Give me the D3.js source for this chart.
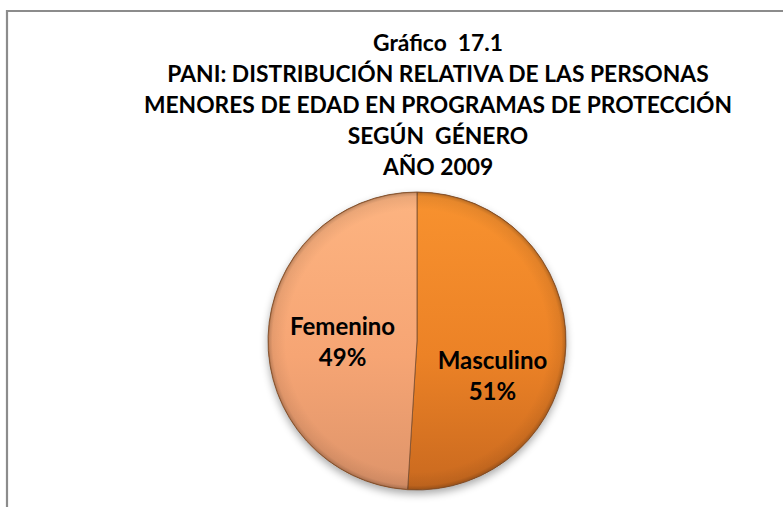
<!DOCTYPE html>
<html>
<head>
<meta charset="utf-8">
<script src="https://cdn.jsdelivr.net/npm/d3@7"></script>
<style>
  html, body { margin: 0; padding: 0; background: #ffffff; }
  svg { display: block; }
  text { white-space: pre; }
</style>
</head>
<body>
<svg id="chart" width="783" height="507"></svg>
<script>
// ---- Data ----
const titleLines = [
  "Gráfico  17.1",
  "PANI: DISTRIBUCIÓN RELATIVA DE LAS PERSONAS",
  "MENORES DE EDAD EN PROGRAMAS DE PROTECCIÓN",
  "SEGÚN  GÉNERO",
  "AÑO 2009"
];
const categories = ["Masculino", "Femenino"];
const values = [51, 49];
const percentLabels = ["51%", "49%"];

// ---- Layout / style (not data) ----
const W = 783, H = 507;
const cx = 417, cy = 341, R = 149;
const fontFamily = "Lato, 'Open Sans', 'Liberation Sans', sans-serif";
const sliceStops = [
  [{o: 0, c: "#f8922f"}, {o: 0.55, c: "#ec8226"}, {o: 1, c: "#c9691f"}],
  [{o: 0, c: "#fdb481"}, {o: 0.55, c: "#f6a574"}, {o: 1, c: "#de946a"}]
];
const labelShift = [[-2, 33], [3, 4]];

const svg = d3.select("#chart");
const defs = svg.append("defs");

// frame
svg.append("path")
  .attr("d", `M7,${H + 5} L7,11 L${W + 5},11`)
  .attr("fill", "none")
  .attr("stroke", "#8c8c8c")
  .attr("stroke-width", 2.2);

// title
const title = svg.append("text")
  .attr("text-anchor", "middle")
  .attr("font-family", fontFamily)
  .attr("font-weight", "bold")
  .attr("font-size", 22.8)
  .attr("fill", "#000");
titleLines.forEach((t, i) => {
  title.append("tspan")
    .attr("x", 438)
    .attr("y", 51 + i * 31)
    .text(t);
});

// gradients (in the pie group's coordinates)
sliceStops.forEach((stops, i) => {
  const gr = defs.append("linearGradient")
    .attr("id", "grad" + i)
    .attr("gradientUnits", "userSpaceOnUse")
    .attr("x1", 0).attr("y1", -R)
    .attr("x2", 0).attr("y2", R);
  stops.forEach(s => gr.append("stop").attr("offset", s.o).attr("stop-color", s.c));
});
const rim = defs.append("radialGradient")
  .attr("id", "rim")
  .attr("gradientUnits", "userSpaceOnUse")
  .attr("cx", 0).attr("cy", 0).attr("r", R);
rim.append("stop").attr("offset", 0.88).attr("stop-color", "#000").attr("stop-opacity", 0);
rim.append("stop").attr("offset", 0.97).attr("stop-color", "#000").attr("stop-opacity", 0.07);
rim.append("stop").attr("offset", 1).attr("stop-color", "#000").attr("stop-opacity", 0.25);

const shadow = defs.append("filter")
  .attr("id", "shadow")
  .attr("x", "-20%").attr("y", "-20%").attr("width", "140%").attr("height", "140%");
shadow.append("feGaussianBlur").attr("in", "SourceAlpha").attr("stdDeviation", 4);
shadow.append("feOffset").attr("dx", 0).attr("dy", 4).attr("result", "b");
shadow.append("feComponentTransfer").append("feFuncA").attr("type", "linear").attr("slope", 0.35);
const merge = shadow.append("feMerge");
merge.append("feMergeNode");
merge.append("feMergeNode").attr("in", "SourceGraphic");

// pie
const pie = d3.pie().sort(null).value(d => d.v);
const arcs = pie(categories.map((c, i) => ({c, v: values[i], p: percentLabels[i], i})));
const arc = d3.arc().innerRadius(0).outerRadius(R);
const labelArc = d3.arc().innerRadius(R * 0.52).outerRadius(R * 0.52);

const g = svg.append("g").attr("transform", `translate(${cx},${cy})`);
g.append("circle").attr("r", R).attr("fill", "#d98040").attr("filter", "url(#shadow)");
g.selectAll("path.slice")
  .data(arcs)
  .enter().append("path")
  .attr("class", "slice")
  .attr("d", arc)
  .attr("fill", d => `url(#grad${d.data.i})`)
  .attr("stroke", "#7a4e30")
  .attr("stroke-width", 0.8)
  .attr("stroke-linejoin", "round");

g.append("circle").attr("r", R).attr("fill", "url(#rim)").attr("pointer-events", "none");
g.append("circle").attr("r", R - 0.4).attr("fill", "none").attr("stroke", "#9a5a28").attr("stroke-opacity", 0.5).attr("stroke-width", 0.8);

// labels
const lbl = g.selectAll("text.lbl")
  .data(arcs)
  .enter().append("text")
  .attr("class", "lbl")
  .attr("text-anchor", "middle")
  .attr("font-family", fontFamily)
  .attr("font-weight", "bold")
  .attr("font-size", 24)
  .attr("fill", "#000")
  .attr("transform", d => {
    const [x, y] = labelArc.centroid(d);
    const s = labelShift[d.data.i];
    return `translate(${x + s[0]},${y + s[1]})`;
  });
lbl.append("tspan").attr("x", 0).attr("dy", "-0.33em").text(d => d.data.c);
lbl.append("tspan").attr("x", 0).attr("dy", "1.3em").text(d => d.data.p);
</script>
</body>
</html>
